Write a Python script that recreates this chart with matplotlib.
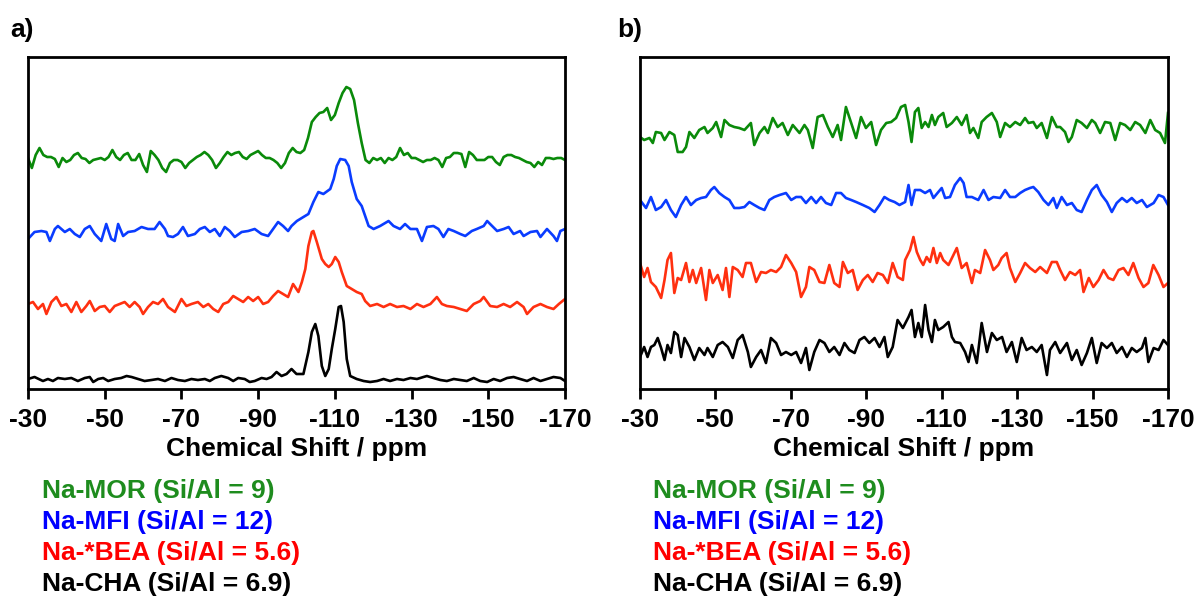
import numpy as np
import matplotlib
matplotlib.use("Agg")
import matplotlib.pyplot as plt

plt.rcParams["font.family"] = ["Liberation Sans", "DejaVu Sans"]
plt.rcParams["font.weight"] = "bold"

# ---------------- panel a: 29Si MAS NMR spectra ----------------
# Na-MOR, 1 ppm grid from -30 to -170 ppm
a_mor_ppm = -np.arange(30, 171, 1)
a_mor_int = [0, -10, 3, 10, 3, 1, 1, -1, -9, 0, -4, -2, 3, 5, 0, -1, -5, -2, -1, 0,
             -2, 1, 8, 1, -2, 3, 5, -2, -2, 4, -7, -14, 7, 3, -2, -10, -14, -5, -2, -2,
             -4, -10, -5, -2, 1, 3, 6, 3, -2, -10, -5, 1, 6, 3, 5, 6, 1, -1, 3, 5,
             7, 3, 0, 0, -2, -5, -10, -5, 5, 10, 6, 5, 8, 20, 36, 41, 45, 46, 50, 38,
             43, 55, 65, 71, 69, 58, 35, 15, -2, -5, 0, -2, 0, -5, 0, -2, 1, 10, 3, 5,
             0, 0, -2, -4, -2, -2, 0, -2, -9, 0, 1, 5, 5, 4, -9, 6, 3, -2, -2, -2,
             1, 1, -4, -7, 1, 3, 3, 1, 0, -2, -4, -5, -9, -4, -7, 0, 0, -1, 0, 0, -2]

a_mfi_ppm = [-30.0, -31.7, -33.5, -34.8, -35.7, -37.0, -37.8, -38.7, -39.6, -40.9,
             -42.2, -43.5, -44.8, -46.1, -47.4, -49.1, -50.4, -51.7, -52.6, -53.5,
             -54.8, -56.1, -57.8, -59.6, -61.3, -63.0, -64.3, -65.7, -66.5, -67.8,
             -69.1, -70.4, -71.7, -73.5, -74.8, -76.1, -77.4, -78.7, -80.0, -81.3,
             -82.6, -83.9, -85.7, -87.4, -89.1, -90.9, -92.6, -93.9, -95.2, -96.5,
             -97.8, -98.7, -100.1, -101.8, -103.1, -104.4, -105.7, -107.0, -108.8, -109.7,
             -110.5, -111.4, -112.7, -113.6, -114.4, -115.7, -117.0, -117.9, -118.8, -120.1,
             -121.8, -124.0, -125.3, -127.0, -128.3, -129.7, -131.4, -132.7, -134.0, -135.7,
             -137.0, -138.3, -139.6, -141.0, -142.7, -144.0, -145.7, -147.0, -148.8, -149.7,
             -151.0, -152.3, -154.0, -155.3, -156.6, -158.3, -159.2, -161.0, -162.7, -163.6,
             -165.3, -167.0, -167.9, -168.8, -170.0]
a_mfi_int = [-7, 0, 1, 0, -9, 3, 6, 3, 0, 3,
             -2, -5, 3, 6, -2, -9, 8, -7, -9, 8,
             -4, 0, 1, 5, 3, 3, 10, 3, -4, -5,
             -2, 5, -4, -2, 3, 5, 0, 3, -4, 5,
             1, -5, 0, 1, 3, -2, -4, 3, 10, 6,
             1, 6, 11, 15, 18, 30, 40, 38, 43, 53,
             66, 73, 72, 66, 50, 33, 26, 16, 6, 3,
             6, 11, 6, 3, 8, 3, 3, -9, 5, 6,
             3, -5, 3, 1, -2, -4, 1, 3, 6, 11,
             6, 1, 3, 5, -2, 1, -4, 0, 1, -5,
             3, -4, -9, 1, 3]

a_bea_ppm = [-30.0, -31.3, -32.6, -33.9, -34.8, -36.1, -37.4, -38.7, -40.0, -41.3,
             -42.6, -43.9, -45.2, -46.1, -47.4, -48.7, -50.0, -51.3, -52.6, -53.9,
             -55.2, -56.5, -57.8, -59.1, -60.0, -61.3, -62.6, -63.9, -65.2, -66.5,
             -68.3, -70.0, -71.3, -72.6, -74.3, -75.7, -77.0, -78.3, -79.6, -80.9,
             -82.2, -83.5, -84.8, -86.1, -87.4, -88.7, -90.0, -91.3, -92.6, -93.9,
             -95.2, -96.5, -97.8, -99.1, -100.5, -101.4, -102.3, -103.1, -104.0, -104.4,
             -105.3, -106.6, -107.5, -108.4, -109.2, -110.1, -111.0, -111.8, -113.1, -114.4,
             -115.7, -117.0, -117.9, -119.2, -121.0, -122.7, -124.4, -126.2, -127.9, -129.7,
             -131.4, -133.1, -134.9, -136.6, -137.9, -139.2, -141.0, -142.7, -144.4, -146.2,
             -147.9, -148.8, -150.5, -152.3, -154.0, -155.7, -157.5, -159.2, -160.1, -161.8,
             -163.6, -165.3, -167.0, -168.4, -170.0]
a_bea_int = [2, 4, -3, 2, -8, 4, 9, 0, 2, -6,
             4, -6, 0, 5, -5, -1, 0, -6, 0, 2,
             4, -1, 4, -1, -8, -1, 4, 2, 7, -1,
             -6, 7, 0, 2, 4, -1, 2, -3, -6, 2,
             4, 10, 7, 4, 9, 5, 9, 2, 4, 10,
             15, 12, 9, 22, 14, 24, 37, 60, 74, 75,
             64, 47, 42, 39, 42, 49, 44, 34, 20, 17,
             14, 12, 5, 0, 2, -1, 2, -1, 0, -3,
             2, -1, 2, 9, 2, 0, -1, -3, -5, 2,
             5, 9, 0, -1, 2, -1, 4, -1, -8, -1,
             2, -1, -3, 2, 7]

a_cha_ppm = [-30.0, -31.7, -33.9, -35.2, -36.5, -37.8, -39.6, -41.3, -43.0, -44.8,
             -46.1, -47.0, -48.3, -49.6, -50.9, -52.6, -54.3, -55.7, -57.0, -58.7,
             -60.4, -62.2, -63.9, -65.7, -67.4, -69.1, -70.9, -72.6, -74.3, -76.1,
             -77.4, -78.7, -80.4, -82.2, -83.5, -84.8, -86.5, -87.8, -89.1, -90.9,
             -92.2, -93.5, -94.8, -96.1, -97.4, -98.7, -100.0, -101.8, -103.1, -104.0,
             -104.9, -105.7, -106.6, -107.5, -108.4, -109.2, -110.1, -111.0, -111.6, -112.3,
             -113.1, -114.0, -115.7, -117.5, -119.2, -121.0, -122.7, -124.4, -126.2, -127.9,
             -129.7, -131.4, -133.1, -134.0, -135.7, -137.5, -139.2, -141.0, -142.7, -144.4,
             -146.2, -147.9, -149.7, -151.4, -153.1, -154.9, -156.6, -158.3, -160.1, -161.8,
             -163.6, -165.3, -167.0, -168.8, -170.0]
a_cha_int = [0, 2, -2, 0, -2, 1, 0, 1, -2, 1,
             2, -3, 0, 1, -2, 0, 1, 3, 2, 0,
             -2, -1, 0, -2, 1, -1, -2, 0, -1, 0,
             -2, 1, 3, 1, -2, 1, 0, -3, -2, 1,
             0, 2, 7, 3, 5, 10, 5, 5, 27, 47,
             55, 43, 13, 3, 10, 30, 50, 72, 73, 57,
             20, 3, 0, -2, -3, -2, 0, -2, 0, -1,
             1, 0, 2, 3, 1, -1, -2, 0, -1, -2,
             1, -2, -3, 0, -2, 1, 2, 0, -2, 1,
             -2, 0, 2, 1, -2]

# ---------------- panel b ----------------
b_mor_ppm = [-30.0, -31.1, -32.5, -33.4, -34.2, -35.6, -36.5, -37.8, -39.1, -40.0,
             -41.3, -42.2, -43.1, -44.4, -45.7, -47.1, -47.9, -49.3, -50.2, -51.5,
             -52.4, -53.7, -55.0, -56.3, -57.7, -59.4, -60.3, -61.7, -63.0, -63.9,
             -65.2, -66.5, -67.8, -69.2, -70.5, -72.3, -73.6, -74.5, -75.8, -77.1,
             -78.5, -79.8, -81.1, -82.4, -83.3, -84.6, -86.0, -87.3, -88.6, -89.9,
             -91.3, -92.6, -93.9, -95.3, -96.6, -97.9, -99.2, -100.3, -101.2, -102.0,
             -102.9, -103.8, -104.7, -105.6, -106.5, -107.4, -108.2, -109.1, -110.4, -111.3,
             -112.7, -114.0, -115.3, -116.6, -117.5, -118.4, -119.7, -120.6, -121.9, -123.3,
             -124.6, -125.5, -126.8, -128.1, -129.5, -130.8, -132.1, -133.0, -134.3, -135.2,
             -136.5, -137.9, -139.2, -140.5, -141.4, -142.7, -143.6, -144.5, -145.8, -147.1,
             -148.5, -149.8, -150.7, -152.0, -153.3, -154.7, -156.0, -157.3, -158.6, -160.0,
             -161.3, -162.6, -164.0, -165.3, -166.6, -167.9, -169.2, -170.0]
b_mor_int = [-7, -10, -8, -13, -2, -3, -10, -2, -5, -22,
             -22, -17, -2, -8, 0, 3, -3, 2, 8, -7,
             10, 5, 3, 2, 0, 7, -15, -3, 3, -3,
             12, 3, 7, -5, 5, -3, 5, 0, -18, 13,
             15, 3, -7, 5, -10, 23, 7, -8, 13, 2,
             8, -15, 0, 7, 8, 12, 23, 25, 8, -12,
             18, 22, 2, 8, 3, 15, 5, 13, 17, 3,
             7, 13, 5, 15, -3, 2, -8, 8, 13, 17,
             8, -7, 7, 3, 8, 5, 12, 7, 8, 2,
             7, -8, 13, 3, 3, -2, -12, -7, 10, 7,
             2, 10, 7, -3, 8, 7, -10, 7, 5, 0,
             8, 5, -3, 10, 0, -3, -13, 17]

b_mfi_ppm = [-30.0, -31.6, -32.9, -34.2, -35.6, -36.9, -38.2, -39.5, -40.9, -42.2,
             -43.5, -44.9, -46.2, -47.5, -48.8, -49.7, -51.0, -52.4, -53.7, -55.0,
             -56.3, -57.7, -59.0, -60.3, -61.7, -63.0, -64.3, -65.6, -67.0, -68.7,
             -70.1, -71.4, -72.7, -74.0, -75.4, -76.7, -78.0, -79.3, -80.7, -82.0,
             -83.3, -84.6, -86.0, -87.3, -89.1, -90.8, -92.2, -93.5, -94.8, -96.1,
             -97.5, -98.8, -100.3, -101.2, -102.0, -102.9, -104.3, -105.6, -106.9, -107.8,
             -109.1, -110.0, -110.9, -112.2, -113.5, -114.9, -115.8, -116.6, -118.0, -119.7,
             -121.1, -122.4, -123.7, -125.5, -126.8, -128.1, -129.5, -130.8, -132.1, -133.4,
             -134.3, -135.6, -137.0, -138.3, -139.6, -140.5, -141.8, -143.2, -144.5, -145.8,
             -147.1, -148.5, -149.8, -151.1, -152.4, -153.8, -155.1, -156.4, -157.8, -159.1,
             -160.4, -161.7, -163.1, -164.4, -166.2, -167.5, -168.8, -170.0]
b_mfi_int = [3, -5, 6, -7, -4, 3, -7, -14, -2, 6,
             -2, 3, 5, 6, 13, 16, 10, 6, 3, -5,
             -5, -4, 1, -2, -5, -7, 3, 6, 8, 10,
             3, 6, 6, 0, 6, 0, 6, 0, -2, 10,
             10, 5, 3, 1, -2, -5, -9, -2, 6, 3,
             1, -2, 1, 18, -2, 13, 13, 10, 13, 5,
             11, 15, 5, 6, 18, 25, 20, 6, 6, 3,
             13, 3, 6, 5, 13, 6, 6, 10, 13, 15,
             16, 11, 3, -2, 5, -5, 6, -2, 0, -7,
             -9, 3, 13, 18, 8, 1, -9, 0, 5, 1,
             5, 0, 3, -4, 0, 8, 6, -2]

b_bea_ppm = [-30.0, -31.1, -32.0, -32.9, -34.2, -35.6, -36.5, -37.3, -38.2, -39.1,
             -40.0, -40.9, -42.2, -43.1, -44.0, -44.9, -46.2, -47.5, -48.4, -49.3,
             -50.6, -51.9, -52.8, -53.7, -54.6, -55.9, -57.2, -58.1, -59.4, -60.8,
             -62.1, -63.4, -64.7, -66.1, -67.4, -68.7, -70.1, -71.4, -72.7, -74.0,
             -74.9, -76.2, -77.6, -78.9, -80.2, -81.5, -82.9, -83.8, -85.1, -86.4,
             -87.7, -89.1, -90.4, -91.7, -93.0, -94.4, -95.7, -97.0, -98.3, -99.7,
             -100.3, -101.6, -102.5, -103.4, -104.3, -105.1, -106.0, -106.9, -107.8, -108.7,
             -109.6, -110.4, -111.8, -113.1, -114.0, -115.3, -116.6, -118.0, -118.8, -120.2,
             -121.5, -122.8, -123.7, -125.0, -125.9, -127.2, -128.1, -129.5, -130.8, -132.1,
             -133.4, -134.8, -136.1, -137.9, -139.2, -140.5, -141.4, -142.7, -144.0, -145.4,
             -146.7, -147.6, -149.0, -150.2, -151.6, -152.9, -154.2, -155.5, -156.9, -158.2,
             -159.5, -160.8, -162.2, -163.5, -164.8, -166.1, -167.5, -168.8, -170.0]
b_bea_int = [14, 0, 9, -5, -10, -21, -3, 17, 24, -16,
             -1, -3, 14, -5, 7, -6, 9, -23, 7, -6,
             2, -13, 9, -20, 10, 7, 0, 14, 14, -5,
             5, 4, 7, 5, 10, 22, 14, 5, -20, -10,
             10, 7, -5, -6, 12, -6, -10, 15, 4, 7,
             -13, -3, 2, -5, 4, 2, -6, 14, 0, -3,
             17, 27, 40, 25, 17, 12, 20, 15, 29, 14,
             24, 17, 12, 22, 29, 9, 14, -6, 7, 4,
             27, 17, 7, 12, 19, 24, 9, -5, 4, 14,
             9, 5, 10, 4, 15, 15, 7, -3, 5, 2,
             7, -15, -1, -10, -3, 7, -1, -3, 7, 9,
             2, 14, -1, -10, -6, 12, 2, -10, -6]

b_cha_ppm = [-30.0, -31.1, -32.0, -32.9, -33.8, -34.7, -35.6, -36.5, -37.3, -38.2,
             -39.1, -40.0, -40.9, -41.8, -43.1, -44.4, -45.7, -47.1, -47.9, -49.3,
             -50.6, -51.9, -53.3, -54.6, -55.9, -57.2, -58.6, -59.4, -60.8, -62.1,
             -63.4, -64.7, -66.1, -67.4, -68.7, -70.1, -71.4, -72.7, -74.0, -74.9,
             -76.2, -77.6, -78.9, -80.2, -81.5, -82.9, -84.2, -85.5, -86.9, -88.2,
             -89.5, -90.8, -92.2, -93.5, -94.8, -95.7, -97.0, -98.3, -99.7, -101.2,
             -102.0, -102.9, -103.8, -104.7, -105.6, -106.5, -107.4, -108.2, -109.1, -110.4,
             -111.8, -112.7, -113.5, -114.9, -116.2, -117.1, -118.0, -119.3, -120.6, -122.0,
             -123.3, -124.6, -126.0, -127.2, -128.6, -129.9, -131.2, -132.5, -133.9, -135.2,
             -136.5, -137.9, -138.7, -140.1, -141.4, -143.2, -144.5, -145.8, -147.1, -148.5,
             -149.8, -151.1, -152.4, -153.8, -155.1, -156.4, -157.8, -159.1, -160.4, -161.7,
             -163.1, -164.0, -164.8, -166.2, -167.5, -168.8, -170.0]
b_cha_int = [-7, 3, -7, 3, 5, 12, 2, -10, 5, -3,
             18, 15, -7, 12, 3, -10, 2, -5, 2, -7,
             5, 8, 3, -8, 10, 15, -2, -17, -7, 0,
             -13, 12, 7, -5, -2, -5, -2, -13, 2, -20,
             -2, 10, 7, -2, 3, -5, 7, 0, -3, 10,
             13, 7, 12, 3, 13, -7, 3, 30, 22, 33,
             40, 13, 27, 13, 45, 20, 8, 30, 20, 23,
             28, 13, 8, 7, -2, -12, 5, -13, 27, -2,
             17, 10, 13, -2, 8, -12, 12, 0, 3, -2,
             5, -25, 0, 8, -3, 7, -10, 0, -15, -3,
             12, -13, 7, 2, 7, -3, 3, -7, 2, -2,
             2, 12, -12, 2, 0, 10, 5]

series_names = ["Na-MOR (Si/Al = 9)", "Na-MFI (Si/Al = 12)",
                "Na-*BEA (Si/Al = 5.6)", "Na-CHA (Si/Al = 6.9)"]
line_colors = ["#0a8a0a", "#0a3cff", "#ff3010", "#000000"]
text_colors = ["#1e8c1e", "#0000ff", "#ff0000", "#000000"]
x_ticks = [-30, -50, -70, -90, -110, -130, -150, -170]

panels = [
    ("a)", [(a_mor_ppm, a_mor_int), (a_mfi_ppm, a_mfi_int),
            (a_bea_ppm, a_bea_int), (a_cha_ppm, a_cha_int)],
     [231, 157, 83, 10]),
    ("b)", [(b_mor_ppm, b_mor_int), (b_mfi_ppm, b_mfi_int),
            (b_bea_ppm, b_bea_int), (b_cha_ppm, b_cha_int)],
     [259, 186, 112, 39]),
]

W, H = 1196, 599
fig = plt.figure(figsize=(W / 100, H / 100), dpi=100)

axes_px = [(28, 565), (640, 1168)]
top_px, bot_px = 57, 389
label_px = [(10, 42), (617, 653)]

for (tag, traces, offsets), (x0, x1), (tx, lx) in zip(panels, axes_px, label_px):
    ax = fig.add_axes([x0 / W, 1 - bot_px / H, (x1 - x0) / W, (bot_px - top_px) / H])
    for (ppm, inten), off, col in zip(traces, offsets, line_colors):
        ax.plot(ppm, np.asarray(inten) + off, color=col, lw=1.9,
                solid_joinstyle="round")
    ax.set_xlim(-30, -170)
    ax.set_ylim(0, bot_px - top_px)
    ax.set_yticks([])
    ax.set_xticks(x_ticks)
    ax.set_xticklabels([str(t) for t in x_ticks], fontsize=19, fontweight="bold")
    ax.tick_params(axis="x", direction="out", length=7, width=2.0, pad=7)
    for sp in ax.spines.values():
        sp.set_linewidth(2.0)
    ax.set_xlabel("Chemical Shift / ppm", fontsize=19, fontweight="bold", labelpad=3)
    fig.text(tx / W, 1 - 30 / H, tag, fontsize=19, fontweight="bold",
             ha="left", va="center")
    for i, (name, tc) in enumerate(zip(series_names, text_colors)):
        fig.text(lx / W, 1 - (491 + 31 * i) / H, name, color=tc, fontsize=19,
                 fontweight="bold", ha="left", va="center")

fig.savefig("out.png", dpi=100)
